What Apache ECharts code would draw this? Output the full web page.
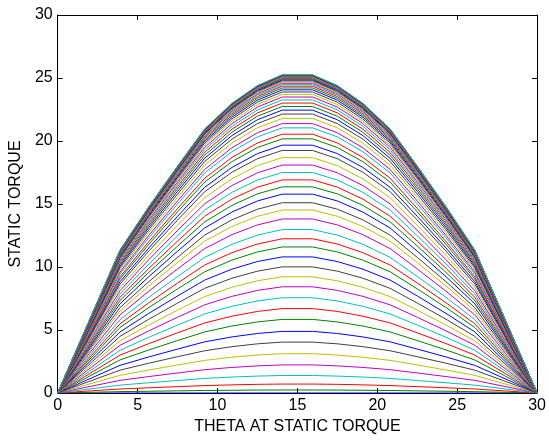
<!DOCTYPE html>
<html>
<head>
<meta charset="utf-8">
<script src="https://cdn.jsdelivr.net/npm/echarts@6/dist/echarts.min.js"></script>
<style>
html, body { margin: 0; padding: 0; background: #fff; }
#chart { width: 549px; height: 440px; }
</style>
</head>
<body>
<div id="chart"></div>
<script>
// sample angles of every curve
const theta = [0, 3.9, 5.7, 7.5, 9.2, 10.9, 12.5, 14.05, 15.95, 17.5, 19.1, 20.8, 22.5, 24.3, 26.1, 30];
// top curve, divided by its flat-top value
const shape = [0, 0.449, 0.585, 0.713, 0.83, 0.91, 0.966, 1, 1, 0.966, 0.91, 0.83, 0.713, 0.585, 0.449, 0];
// flat-top value (at theta ~14-16) of each curve, bottom to top
const peaks = [
    0, 0.24, 0.71, 1.39, 2.23, 3.12, 4.04, 4.89, 5.84, 6.70,
    7.56, 8.43, 9.22, 10.01, 10.80, 11.59, 12.24, 12.97, 13.81, 14.52,
    15.10, 15.78, 16.36, 16.91, 17.50, 18.09, 18.68, 19.25, 19.67, 20.17,
    20.54, 21.04, 21.38, 21.79, 22.14, 22.45, 22.74, 23.01, 23.26, 23.49,
    23.70, 23.89, 24.06, 24.21, 24.35, 24.47, 24.58, 24.68, 24.77, 24.85,
    24.92, 24.98, 25.03, 25.08, 25.12, 25.16, 25.19, 25.22, 25.24, 25.26
];
const xTicks = [0, 5, 10, 15, 20, 25, 30];
const yTicks = [0, 5, 10, 15, 20, 25, 30];

// matlab's old colour order: b g r c m y k
const colors = ['#0000ff', '#008000', '#ff0000', '#00bfbf', '#bf00bf', '#bfbf00', '#404040'];

const font = 'Liberation Sans, Arial, sans-serif';

const series = peaks.map((p, k) => ({
    type: 'line',
    data: theta.map((t, i) => [t, +(p * shape[i]).toFixed(3)]),
    showSymbol: false,
    symbol: 'none',
    lineStyle: { width: 1, color: colors[k % colors.length] },
    silent: true
}));

const tickSide = {
    axisLine: { show: true, onZero: false, lineStyle: { color: '#000', width: 1 } },
    axisTick: { show: true, inside: true, length: 5, lineStyle: { color: '#000' } },
    splitLine: { show: false }
};

const chart = echarts.init(document.getElementById('chart'), null, { renderer: 'canvas' });
chart.setOption({
    animation: false,
    backgroundColor: '#fff',
    grid: { left: 57, right: 7, top: 15, bottom: 45 },
    xAxis: [
        {
            type: 'value', min: xTicks[0], max: xTicks[xTicks.length - 1], interval: 5,
            position: 'bottom',
            name: 'THETA AT STATIC TORQUE', nameLocation: 'middle', nameGap: 26,
            nameTextStyle: { color: '#000', fontSize: 16, fontFamily: font },
            axisLabel: { color: '#000', fontSize: 16, fontFamily: font, margin: 5 },
            ...tickSide
        },
        {
            type: 'value', min: xTicks[0], max: xTicks[xTicks.length - 1], interval: 5,
            position: 'top', axisLabel: { show: false },
            ...tickSide
        }
    ],
    yAxis: [
        {
            type: 'value', min: yTicks[0], max: yTicks[yTicks.length - 1], interval: 5,
            position: 'left',
            name: 'STATIC TORQUE', nameLocation: 'middle', nameGap: 32, nameRotate: 90,
            nameTextStyle: { color: '#000', fontSize: 16, fontFamily: font },
            axisLabel: { color: '#000', fontSize: 16, fontFamily: font, margin: 5 },
            ...tickSide
        },
        {
            type: 'value', min: yTicks[0], max: yTicks[yTicks.length - 1], interval: 5,
            position: 'right', axisLabel: { show: false },
            ...tickSide
        }
    ],
    series: series
});
</script>
</body>
</html>
